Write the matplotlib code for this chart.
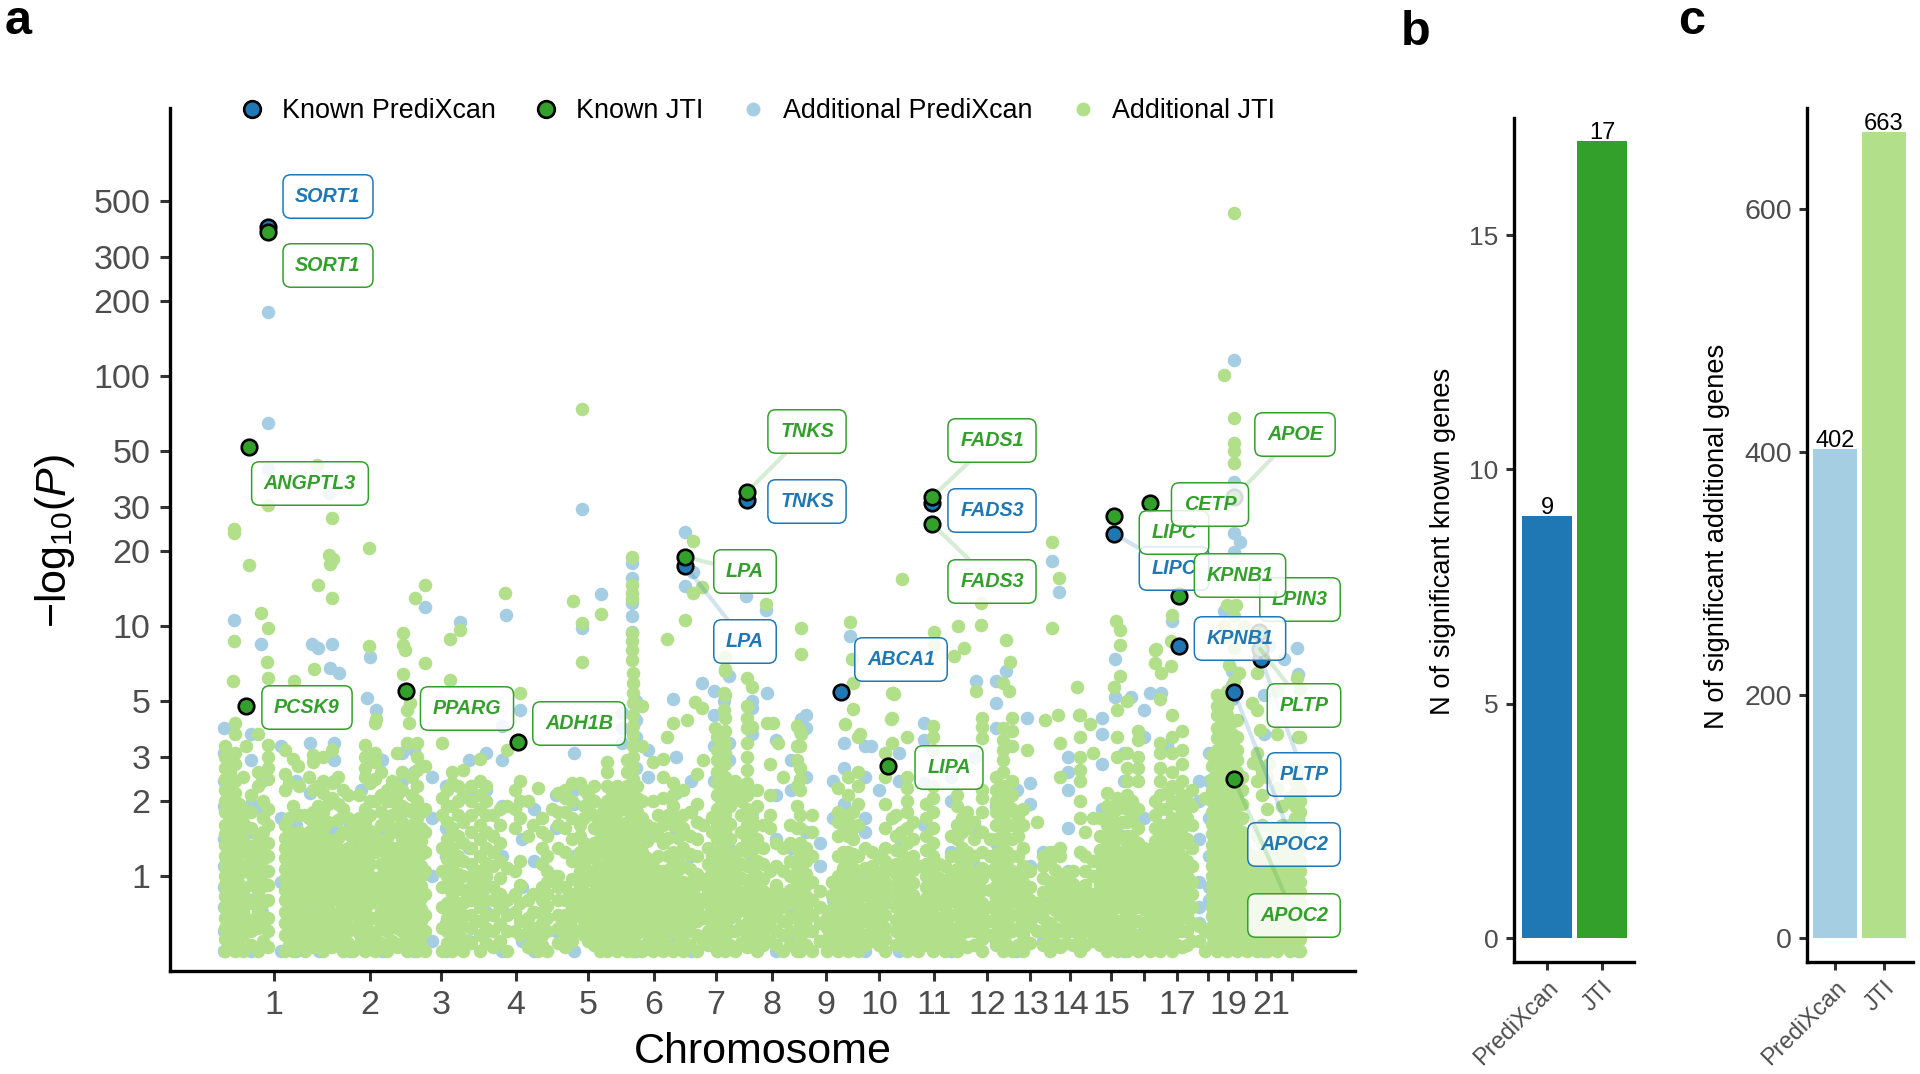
import matplotlib
matplotlib.use('Agg')
import matplotlib.pyplot as plt
from matplotlib.lines import Line2D

plt.rcParams['font.family'] = ['Liberation Sans', 'DejaVu Sans']
plt.rcParams['mathtext.fontset'] = 'custom'
plt.rcParams['mathtext.rm'] = 'Liberation Sans'
plt.rcParams['mathtext.it'] = 'Liberation Sans:italic'

azul, verde = '#1F78B4', '#33A02C'
azul_claro, verde_claro = '#A6CEE3', '#B2DF8A'
cinza = '#4D4D4D'

# cromossomos (posicao no genoma em unidades de ~2.66 Mb)
chrom_pos = [50, 146, 217, 292, 364, 430, 492, 548, 602, 655, 710, 763, 806, 846, 887, 920, 953, 984, 1004, 1032, 1047, 1068]
chrom_labels = ['1', '2', '3', '4', '5', '6', '7', '8', '9', '10', '11', '12', '13', '14', '15', '', '17', '', '19', '', '21', '']
y_ticks = [1, 2, 3, 5, 10, 20, 30, 50, 100, 200, 300, 500]

# genes conhecidos
known_pred = [(44, 394), (461, 17.4), (523, 31.9), (617, 5.45), (708, 31), (890, 23.4), (955, 8.35), (1010, 5.45), (1037, 7.4)]
known_jti = [(44, 378), (25, 52), (22, 4.78), (182, 5.5), (294, 3.45), (461, 18.9), (523, 34.3), (664, 2.75), (708, 32.8),
             (708, 25.6), (890, 27.5), (926, 31), (955, 13.2), (1010, 32.7), (1010, 2.44), (1036, 8.1), (1035, 9.5)]

# pontos isolados acima da massa
top_jti = [(10, 23.6), (10, 24.5), (25, 17.6), (37, 11.3), (44, 30.5), (10, 8.7), (9, 6), (44, 9.8), (43, 7.2), (44, 6.2), (70, 6),
           (90, 6.7), (93, 44), (108, 27), (94, 14.6), (108, 12.9), (106, 17.7), (109, 18.5), (105, 19.2), (145, 20.6), (145, 8.3),
           (152, 4.25), (179, 9.4), (179, 8.4), (181, 8), (179, 6.4), (186, 4.9), (185, 4.1), (191, 12.9), (201, 14.6), (201, 7.1),
           (226, 8.9), (236, 9.6), (226, 6.1), (281, 13.6), (296, 5.4), (349, 12.6), (358, 10.3), (358, 7.2), (358, 74), (377, 11.2),
           (408, 18.8), (408, 14.6), (408, 13.6), (408, 12.8), (408, 9.4), (408, 8.7), (408, 8), (408, 7.3), (443, 8.9), (461, 10.6),
           (469, 13.6), (469, 21.9), (478, 14.3), (501, 6.6), (523, 6.2), (528, 5.7), (542, 12.2), (577, 9.8), (577, 7.7), (500, 5.4),
           (500, 4.6), (471, 4.96), (478, 4.7), (463, 4.2), (449, 4.1), (491, 3.9), (528, 3.95), (543, 4.1), (549, 4.1), (554, 3.4),
           (443, 3.6), (577, 3.7), (626, 10.4), (628, 7.4), (629, 5.9), (629, 4.65), (621, 4.05), (636, 3.7), (669, 5.4), (667, 4.25),
           (678, 15.4), (670, 5.35), (710, 9.5), (734, 10), (757, 12.4), (757, 10.1), (740, 8.2), (730, 7.6), (782, 8.8), (786, 7.2),
           (752, 5.5), (785, 5.5), (853, 5.7), (828, 21.7), (835, 15.5), (828, 9.8), (710, 8.4), (821, 4.2), (834, 4.4), (855, 4.4),
           (866, 4.05), (803, 3.2), (892, 10.5), (896, 9.6), (896, 8.4), (896, 6.3), (890, 5.7), (903, 5), (931, 8), (931, 7.1),
           (937, 6.5), (948, 11.1), (947, 8.7), (947, 6.9), (932, 8.1), (1010, 68), (1010, 54), (1010, 50), (1010, 45), (1010, 450),
           (1000, 101), (1010, 16), (1003, 12.1), (1012, 12.1), (1000, 10), (1002, 9), (1010, 11), (1020, 10), (1010, 9.3), (1010, 8.2),
           (1005, 7), (1015, 6.5), (1010, 6), (1033, 6.5), (1073, 6.2), (1053, 5.5), (1028, 4.9), (1036, 3.85), (1053, 3.7), (1074, 3.6),
           (1029, 2.83), (1033, 2.4), (1045, 2.8)]
top_pred = [(44, 181), (44, 65), (44, 42.4), (105, 34), (10, 10.6), (37, 8.5), (88, 8.5), (94, 8.2), (108, 8.5), (106, 6.8), (115, 6.5),
            (143, 5.15), (152, 4.6), (146, 7.5), (201, 11.9), (236, 10.4), (282, 11.1), (377, 13.4), (358, 9.8), (296, 4.6), (449, 5.1),
            (461, 23.8), (461, 14.4), (469, 16.5), (408, 17.9), (408, 15.5), (408, 12.4), (408, 11), (408, 9.5), (358, 29.4), (522, 13.2),
            (542, 11.6), (478, 5.9), (500, 5), (528, 5), (543, 5.4), (577, 4.25), (626, 9.1), (647, 3.3), (828, 18.2), (835, 13.7),
            (782, 6.6), (752, 6), (803, 4.3), (891, 7.4), (891, 5.2), (907, 5.2), (926, 5.4), (937, 5.4), (948, 10.5), (1010, 37.7),
            (1010, 23.6), (1016, 21.7), (1010, 19.8), (1010, 116), (1073, 8.2), (1010, 12), (1000, 11.5), (1045, 8.3), (1060, 7.4)]

# massa densa: posicao -> valores de -log10(P)
jti_chr1_5 = {
    1: [.5, .56, .62, .68, .75, .83, .92, 1, 1.1, 1.2, 1.33, 1.47, 1.6, 1.8, 2, 2.2, 2.45, 2.7, 3, 3.3],
    11: [.5, .55, .6, .66, .73, .8, .88, .97, 1.07, 1.18, 1.3, 1.43, 1.57, 1.75, 2.15, 2.4, 2.8, 3.1, 3.7, 4.1],
    19: [.5, .58, .65, .72, .85, 1.1, 1.25, 1.4, 1.65, 1.85, 2.5],
    22: [3.3],
    34: [.5, .62, .72, .85, .98, 1.1, 1.25, 1.45, 2.3, 2.6, 3.7],
    44: [.52, .6, .68, .8, .92, 1.05, 1.2, 1.35, 1.6, 1.85, 2.45, 2.7, 3, 3.35],
    61: [.5, .58, .65, .72, .8, .88, .97, 1.07, 1.18, 1.3, 1.42, 1.6, 2.2, 2.55, 3.2],
    69: [.5, .56, .63, .7, .78, .86, .95, 1.05, 1.15, 1.25, 1.4, 1.9, 2.95],
    74: [2.75],
    81: [.5, .58, .66, .74, .84, .93, 1.02, 1.13, 1.25, 1.45, 1.75],
    89: [.52, .6, .68, .78, .87, .98, 1.08, 1.2, 1.35, 1.55, 1.8, 2.2, 2.85, 3.05],
    99: [.5, .57, .64, .72, .82, .9, 1, 1.15, 1.3, 1.55, 1.8, 2.15, 2.4, 3],
    108: [.52, .6, .7, .8, .9, 1.02, 1.2, 1.35, 2.05, 2.35, 3.2],
    119: [.5, .58, .66, .75, .85, .95, 1.08, 1.2, 1.5, 1.85, 2.2],
    129: [.5, .62, .72, .83, .93, 1.05, 1.18, 1.4, 1.55],
    141: [.5, .56, .64, .73, .82, .95, 1.05, 1.2, 1.4, 1.65, 1.85, 2.5, 2.7, 3, 3.35],
    151: [.5, .58, .68, .85, .95, 1.25, 1.45, 2, 2.45, 2.85, 3.1, 4.1],
    163: [.5, .6, .7, .78, .86, .95, 1.05, 1.2, 1.42, 1.65, 2, 2.2],
    173: [.52, .62, .72, .82, .92, 1.02, 1.18, 1.3, 1.55, 1.8, 2.1, 2.3, 3.1],
    183: [.5, .57, .64, .72, .8, .88, .97, 1.07, 1.2, 1.35, 1.55, 1.85, 3.4, 4.6],
    193: [.5, .55, .62, .7, .78, .87, .96, 1.05, 1.17, 1.3, 1.45, 1.7, 2, 2.3, 2.65, 3, 3.4],
    201: [.5, .6, .7, .85, 1.05, 1.25, 1.5, 1.85, 2.75],
    218: [.5, .62, .75, .9, 1.05, 1.3, 1.75, 2.05, 3.4],
    228: [.5, .58, .66, .74, .85, .95, 1.1, 1.3, 1.55, 1.9, 2.35, 2.6],
    239: [.5, .56, .63, .7, .78, .88, 1, 1.15, 1.35, 1.65, 2.1, 2.65],
    256: [.5, .58, .66, .75, .85, .95, 1.05, 1.2, 1.4, 1.6, 1.85, 2.1, 2.4, 2.95],
    269: [.52, .6, .7, .8, .9, 1.1, 1.25, 1.45, 1.75],
    283: [.5, .6, .7, .8, 1.08, 1.9, 3.2],
    291: [.6, .72, .85, 1.05, 1.55, 1.85, 2.2],
    304: [.52, .6, .68, .8, 1.45, 2],
    314: [.5, .56, 2.25],
    323: [.5, .6, .68, .76, .85, .95, 1.05, 1.2, 1.45],
    328: [1.85],
    341: [.52, .58, .65, .7, .8, .9, 1.25, 1.55, 1.8, 2.05, 2.2],
    356: [.6, .7, .8, .9, 1.05, 1.25, 1.45, 1.6, 2.35],
    364: [.55, .63, .7, .78, .85, 1.05, 1.2, 1.3, 1.85, 2.1],
}
jti_chr6_10 = {
    376: [.5, .55, .62, .7, .8, .9, 1, 1.1, 1.25, 1.4, 1.6],
    383: [.5, .58, .66, .75, .85, .95, 1.05, 1.2, 1.35, 1.55, 1.75, 2, 2.3, 2.6, 2.85],
    393: [.5, .56, .62, .7, .78, .86, .95, 1.05, 1.17, 1.3, 1.45, 1.6, 1.8, 2, 2.3],
    403: [.5, .55, .6, .67, .75, .83, .92, 1, 1.1, 1.22, 1.35, 1.5, 1.65, 1.85, 2.05, 2.3, 2.6, 2.9],
    409: [.5, .56, .62, .68, .75, .83, .92, 1, 1.1, 1.2, 1.33, 1.47, 1.62, 1.8, 2, 2.2, 2.45, 2.7, 3, 3.3, 3.65, 4, 4.4, 4.9, 5.4, 5.9, 6.5],
    418: [.5, .6, .7, .8, .9, 1, 1.12, 1.25, 1.5, 1.7, 2, 3.3, 4.8],
    429: [.5, .58, .68, .8, .9, 1, 1.15, 1.55, 2, 2.85],
    439: [.5, .56, .62, .7, .76, .84, .95, 1.05, 1.35, 1.6, 2.05, 2.5, 2.95],
    449: [.5, .6, .68, .78, .88, 1, 1.12, 1.25, 1.6, 1.9, 2.1, 2.35],
    459: [.5, .55, .62, .7, .78, .87, .95, 1.1, 1.3, 1.55, 1.75, 2.2],
    473: [.5, .58, .66, .74, .82, .92, 1.02, 1.2, 1.4, 1.65, 1.95, 2.55],
    479: [.55, .68, .8, .95, 1.6, 2.9],
    493: [.5, .56, .62, .7, .78, .86, .95, 1.1, 1.25, 1.4, 1.6, 1.85, 2.1, 2.35, 2.6, 2.9, 3.2, 3.6],
    501: [.5, .57, .64, .72, .8, .9, 1, 1.15, 1.3, 1.5, 1.75, 2, 2.25, 2.5, 2.8, 3.1, 3.4, 3.8, 4.3, 5.3, 6.7, 7.5],
    511: [.5, .6, .7, .8, .92, 1.05, 1.2, 2.05, 2.4],
    523: [.52, .58, .65, .72, .8, .88, .96, 1.1, 1.25, 1.4, 1.6, 1.85, 2.1, 2.35, 2.65, 3, 3.4, 3.9, 4.3, 4.8],
    533: [.5, .56, .63, .72, .8, .9, 1, 1.15, 1.4, 1.9, 2.2],
    546: [.55, .63, .72, .85, 1.05, 1.55, 1.75, 2.1, 2.8],
    559: [.5, .58, .66, .75, .85, 1.05, 1.3, 2.5],
    573: [.5, .6, .7, .82, .95, 1.1, 1.3, 1.55, 1.9, 2.3, 2.9, 3.3, 4],
    576: [.5, .56, .63, .7, .78, .86, .95, 1.05, 1.2, 1.35, 1.55, 1.75, 2.2, 2.45, 2.7, 3.3, 3.8],
    588: [.5, .6, .7, .8, .95, 1.2, 1.5, 1.75],
    603: [.5, .56, .62, .68],
    614: [.5, .56, .63, .7, .78, .86, 1, 1.2, 1.45, 1.65, 1.8, 2.25],
    624: [.5, .58, .66, .74, .82, .9, 1, 1.12, 1.25, 1.45, 1.65, 2.1, 2.5],
    634: [.5, .56, .63, .7, .8, .9, 1.05, 1.2, 1.6, 1.95, 2.3, 2.6, 3.6],
    648: [.55, .62, .7, .78, .88, .98, 1.1, 1.25],
}
jti_chr11_22 = {
    661: [.5, .56, .62, .7, .78, .86, .95, 1.05, 1.15, 1.3, 1.55, 1.95, 2.5, 3.1],
    668: [1.7, 3.4, 4.3, 5.4],
    683: [.5, .58, .66, .74, .82, .92, 1.02, 1.15, 1.35, 1.55, 1.8, 2, 2.25, 2.5, 3.6],
    694: [.5, .56, .63, .7, .78, 1.1],
    709: [.5, .56, .62, .7, .78, .86, .95, 1.05, 1.2, 1.35, 1.55, 1.8, 2.05, 2.3, 3.2, 3.6, 4],
    721: [.5, .58, .66, .75, .85, .95, 1.1],
    733: [.5, .56, .62, .7, .78, .87, .96, 1.07, 1.2, 1.4, 1.6, 1.9, 2.1],
    743: [.52, .6, .68, .76, .85, .95, 1.1, 1.25, 1.55, 1.8],
    758: [.5, .56, .62, .7, .78, .88, .98, 1.08, 1.25, 1.5, 1.8, 2.05, 2.2, 3.55, 3.95, 4.3],
    766: [.58, .66, .75, .88, 1.05, 1.2, 1.4],
    779: [.5, .56, .62, .7, .78, .86, .95, 1.05, 1.15, 1.3, 1.5, 1.7, 1.9, 2.1, 2.3, 2.6, 2.9, 3.2, 3.5, 3.9, 5.9],
    788: [.5, .6, .7, .8, .9, 1.05, 1.2, 1.4, 1.6, 1.85, 2.1, 2.4, 3.3, 3.8, 4.3],
    799: [.5, .58, .66, .74, .84, .95, 1.1, 1.3, 1.6, 1.85],
    813: [.6, .7, .78, 1.65],
    826: [.5, .56, .65, .75, .85, .95, 1.15, 1.25],
    836: [.52, .6, .7, .8, .9, 1, 1.2, 1.3, 2.5, 3.4],
    856: [.5, .57, .63, .7, .78, .85, 1.25, 1.7, 2, 2.4, 2.65, 3, 3.6, 4.4],
    869: [.55, .62, .7, .78, .85, 1, 1.15, 1.7, 3.1],
    883: [.5, .56, .63, .7, .78, .87, .96, 1.07, 1.2, 1.35, 1.6, 1.9, 2.15],
    893: [.5, .58, .66, .75, .85, .95, 1.1, 1.25, 1.4, 1.6, 1.85, 2.05, 3, 3.6, 4.6],
    903: [.5, .56, .63, .7, .78, .86, .95, 1.05, 1.17, 1.3, 1.45, 1.65, 1.85, 2.1, 2.4, 2.7, 3.1],
    914: [.5, .58, .66, .75, .85, .95, 1.05, 1.2, 1.35, 1.55, 1.85, 2.4, 2.7, 3, 3.5, 3.8],
    926: [.5, .55, .62, .7, .78, .88, .98, 1.1, 1.25],
    936: [.5, .56, .63, .7, .78, .86, .95, 1.05, 1.17, 1.3, 1.45, 1.6, 1.85, 2.1, 2.4, 2.7, 3.1, 3.4, 5.1],
    948: [.5, .58, .66, .74, .82, .92, 1.02, 1.15, 1.3, 1.5, 1.7, 2, 2.3, 2.6, 3.1, 3.6, 4.4],
    958: [.52, .6, .68, .76, .85, .95, 1.05, 1.2, 1.35, 1.55, 1.8, 2.1, 2.4, 2.8, 3.2, 3.8],
    968: [.55, .65, .75, .85, .95, 1.1, 1.3, 1.6, 1.9, 2.2],
    981: [.5, .6, 2.05],
    993: [.5, .55, .6, .66, .72, .79, .87, .95, 1.05, 1.15, 1.27, 1.4, 1.55, 1.7, 1.9, 2.1, 2.3, 2.6, 2.9, 3.2, 3.55, 3.9, 4.4, 4.8, 5.3],
    1003: [.5, .55, .6, .66, .72, .79, .87, .95, 1.05, 1.15, 1.27, 1.4, 1.55, 1.7, 1.9, 2.1, 2.3, 2.6, 2.9, 3.2, 3.55, 3.9, 4.4, 4.8, 5.5],
    1013: [.5, .55, .6, .66, .72, .79, .87, .95, 1.05, 1.15, 1.27, 1.4, 1.55, 1.7, 1.9, 2.1, 2.3, 2.6, 2.9, 3.2, 3.6, 4.2],
    1023: [.5, .56, .62, .7, .78, .86, .95, 1.05, 1.15, 1.25],
    1033: [.5, .56, .62, .7, .78, .86, .95, 1.05, 1.45, 2.8, 3.1, 4.6],
    1043: [.5, .56, .62, .7, .78, .86, .95, 1.1, 1.85, 2.5],
    1053: [.5, .56, .62, .7, .78, .86, .95, 1.05, 1.15, 1.3, 2.25],
    1066: [.5, .56, .62, .7, .78, .86, .95, 1.05, 1.15, 1.3, 1.45, 1.6, 2.05],
    1076: [.5, .56, .62, .7, .78, .86, .95, 1.05, 1.15, 1.3, 1.45, 1.6, 1.8, 2, 2.2, 3.6, 5.6],
}
# segunda passada na massa, entre as colunas acima
jti_fill_a = {
    6: [.53, .59, .65, .72, .79, .87, .96, 1.05, 1.15, 1.26, 1.38, 1.52, 1.7, 1.9, 2.1, 2.35, 2.6, 2.9],
    15: [.53, .58, .64, .7, .77, .84, .93, 1.02, 1.12, 1.24, 1.36, 1.5, 1.66, 1.95],
    27: [.53, .6, .67, .78, .92, 1.02, 1.17, 1.32, 1.55, 1.8, 2.1],
    39: [.55, .67, .78, .91, 1.04, 1.17, 1.32, 1.5, 1.7, 2],
    65: [.53, .61, .68, .76, .84, .92, 1.02, 1.12, 1.24, 1.36, 1.5, 1.7, 2.35],
    75: [.53, .6, .66, .74, .82, .91, 1, 1.1, 1.2, 1.33, 1.5, 1.75, 2.3],
    85: [.54, .62, .7, .79, .88, .97, 1.07, 1.18, 1.31, 1.5, 1.7, 2.5],
    94: [.54, .62, .7, .8, .92, 1.04, 1.15, 1.28, 1.45, 1.65, 1.9, 2.3],
    104: [.54, .6, .68, .76, .86, .96, 1.08, 1.22, 1.4, 1.65, 1.95],
    114: [.55, .63, .71, .8, .9, 1, 1.13, 1.28, 1.42, 1.68, 1.95, 2.5],
    124: [.54, .6, .69, .78, .88, .99, 1.13, 1.29, 1.47, 1.7, 2.1],
    135: [.53, .59, .68, .77, .87, 1, 1.12, 1.28, 1.5, 1.7, 2.1],
    146: [.53, .6, .68, .78, .88, 1, 1.12, 1.3, 1.52, 1.75, 2, 2.35],
    157: [.54, .63, .73, .81, .9, 1, 1.12, 1.33, 1.6, 1.8, 2.1, 2.6],
    168: [.55, .65, .74, .82, .9, .99, 1.12, 1.3, 1.5, 1.75, 2, 2.4],
    178: [.54, .6, .68, .77, .84, .93, 1.03, 1.13, 1.26, 1.42, 1.65, 1.9, 2.2, 2.6],
    188: [.53, .6, .67, .75, .83, .92, 1.01, 1.12, 1.25, 1.4, 1.6, 1.8, 2.1, 2.5],
    197: [.53, .58, .66, .74, .82, .91, 1, 1.1, 1.23, 1.38, 1.55, 1.8],
    223: [.54, .6, .68, .78, .9, 1, 1.17, 1.4, 1.65, 1.9, 2.2],
    234: [.53, .6, .69, .78, .9, 1.02, 1.2, 1.45, 1.75, 2, 2.3],
    247: [.54, .62, .7, .8, .9, 1, 1.12, 1.3, 1.5, 1.75, 2, 2.3],
    262: [.54, .62, .7, .8, .9, 1, 1.13, 1.3, 1.5, 1.75, 2, 2.3],
    276: [.55, .64, .75, .85, .98, 1.15, 1.35, 1.6, 1.85],
    296: [.58, .66, .78, .92, 1.15, 1.7, 2, 2.4],
    309: [.55, .62, .72, .85, 1.6],
    318: [.53, .58, .65, .72, .8, .9, 1.12, 1.3, 1.5, 1.7],
    334: [.54, .62, .7, .8, .9, 1, 1.3, 1.6, 1.8, 2.15],
    348: [.55, .62, .68, .75, .85, .97, 1.15, 1.4, 1.7, 2, 2.35],
    360: [.58, .66, .74, .84, .95, 1.12, 1.35, 1.7, 1.9, 2.2],
    370: [.53, .6, .67, .75, .85, .95, 1.05, 1.18, 1.35, 1.55, 1.75, 2, 2.3],
}
jti_fill_b = {
    380: [.53, .6, .68, .77, .87, .98, 1.1, 1.25, 1.45, 1.65, 1.85],
    388: [.53, .59, .65, .73, .81, .9, 1, 1.12, 1.27, 1.42, 1.65, 1.9, 2.15],
    398: [.53, .58, .64, .71, .79, .88, .97, 1.07, 1.19, 1.32, 1.47, 1.62, 1.85, 2.1],
    413: [.53, .59, .65, .72, .8, .88, .97, 1.06, 1.17, 1.3, 1.45, 1.6, 1.8, 2.05, 2.3],
    423: [.54, .63, .73, .84, .95, 1.05, 1.18, 1.38, 1.6],
    434: [.54, .6, .66, .73, .82, .93, 1.05, 1.2, 1.45, 1.75],
    444: [.53, .6, .67, .75, .84, .94, 1.06, 1.2, 1.42, 1.75],
    454: [.53, .58, .65, .73, .82, .92, 1.06, 1.18, 1.42, 1.7],
    466: [.53, .6, .68, .76, .85, .95, 1.07, 1.23, 1.45, 1.8],
    484: [.53, .6, .7, .78, .87, .98, 1.12, 1.3],
    488: [.55, .63, .74, .83, .93, 1.05, 1.2, 1.5, 1.72],
    497: [.53, .59, .66, .74, .82, .9, 1, 1.12, 1.28, 1.45, 1.7, 1.95, 2.2, 2.45, 2.75],
    506: [.53, .6, .68, .76, .85, .95, 1.08, 1.22, 1.4, 1.62, 1.9, 2.15],
    517: [.54, .63, .73, .85, .98, 1.12, 1.3, 1.5, 1.75, 2, 2.25],
    528: [.53, .59, .66, .76, .85, .95, 1.08, 1.27, 1.55, 1.7],
    539: [.53, .59, .68, .78, .87, .97, 1.12, 1.3, 1.6],
    552: [.53, .6, .69, .78, .92, 1.1, 1.35],
    566: [.53, .6, .68, .78, .88, 1, 1.15, 1.35, 1.6],
    582: [.53, .6, .67, .75, .83, .92, 1.02, 1.15, 1.3],
    596: [.55, .65, .75, .87],
    608: [.53, .6, .66, .74, .84, .95],
    619: [.53, .6, .68, .77, .85, .95, 1.08, 1.25, 1.5, 1.75],
    629: [.53, .6, .68, .76, .85, .95, 1.08, 1.23, 1.4, 1.55, 1.8],
    641: [.53, .58, .66, .74, .84, .95, 1.08, 1.3],
    655: [.53, .59, .66, .74, .83, .93, 1.04, 1.18],
    672: [.53, .6, .67, .75, .83, .92, 1.02, 1.12, 1.27, 1.45, 1.75],
    677: [.55, .63, .71, .79, .88, .97, 1.08, 1.25, 1.5],
    689: [.53, .6, .68, .76, .84, .94, 1.06, 1.2, 1.4, 1.65],
    702: [.53, .59, .66, .74, .82, .9, 1, 1.12, 1.27, 1.45, 1.7, 1.95],
    715: [.53, .6, .68, .77, .87, .98, 1.12],
    727: [.53, .62, .7, .8, .9, 1.03, 1.2, 1.45],
    738: [.53, .59, .66, .74, .82, .91, 1.02, 1.15, 1.3, 1.5, 1.7],
    750: [.53, .6, .66, .74, .83, .93, 1.03, 1.2, 1.4, 1.65],
    772: [.53, .59, .65, .73, .82, .91, 1, 1.1, 1.22, 1.4, 1.6, 1.8, 2, 2.2, 2.5],
    783: [.53, .59, .65, .73, .82, .9, 1, 1.1, 1.25, 1.42, 1.6, 1.8, 2, 2.25],
    794: [.53, .62, .7, .78, .88, 1, 1.2, 1.45, 1.7],
    806: [.54, .63, .72, .8, .9, 1.05],
}
jti_fill_c = {
    819: [.53, .6, .68, .76, .86, .98, 1.1, 1.2],
    831: [.54, .62, .73, .82, .92, 1.06, 1.25],
    842: [.54, .6, .66, .74, .83, .92, 1.03],
    849: [.53, .6, .67, .75, .84, .93, 1.05],
    861: [.53, .6, .67, .74, .82, .92, 1.05, 1.2, 1.5],
    876: [.53, .59, .66, .74, .83, .92, 1.02, 1.13, 1.27, 1.45, 1.7],
    888: [.53, .6, .68, .78, .87, .98, 1.15, 1.33, 1.5, 1.75],
    898: [.53, .6, .67, .75, .82, .9, 1, 1.12, 1.25, 1.42, 1.65, 1.95],
    908: [.53, .59, .66, .74, .82, .9, 1, 1.12, 1.27, 1.45, 1.7, 2],
    920: [.53, .59, .65, .74, .83, .93, 1.03, 1.15, 1.3],
    931: [.53, .59, .66, .74, .82, .9, 1, 1.11, 1.23, 1.38, 1.55, 1.75, 2],
    942: [.53, .61, .7, .78, .87, .97, 1.08, 1.23, 1.4, 1.6, 1.85, 2.15],
    953: [.53, .6, .68, .76, .85, .95, 1.08, 1.27, 1.45, 1.67, 1.95, 2.25],
    963: [.53, .6, .7, .8, .9, 1, 1.15, 1.4, 1.7, 2],
    975: [.55, .63],
    988: [.53, .58, .63, .69, .75, .83, .91, 1, 1.1, 1.21, 1.33, 1.47, 1.62, 1.8, 2, 2.2, 2.45, 2.75, 3.05],
    998: [.53, .58, .63, .69, .75, .83, .91, 1, 1.1, 1.21, 1.33, 1.47, 1.62, 1.8, 2, 2.2, 2.45, 2.75, 3.05, 3.4, 3.7, 4.15, 4.6, 5.05],
    1008: [.53, .58, .63, .69, .75, .83, .91, 1, 1.1, 1.21, 1.33, 1.47, 1.62, 1.8, 2, 2.2, 2.45, 2.75, 3.05, 3.4, 3.7, 4.15],
    1018: [.53, .58, .65, .74, .82, .9, 1, 1.1, 1.2, 1.35, 1.5, 1.7, 1.95, 2.2, 2.5],
    1028: [.53, .59, .66, .74, .82, .9, 1, 1.1, 1.2],
    1038: [.53, .59, .66, .74, .82, .9, 1, 1.1, 1.2, 1.35, 1.6, 2.1, 2.6],
    1048: [.53, .59, .66, .74, .82, .9, 1, 1.1, 1.2, 1.35, 1.55],
    1058: [.53, .59, .66, .74, .82, .9, 1, 1.1, 1.22, 1.4, 1.6, 1.9],
    1071: [.53, .59, .66, .74, .82, .9, 1, 1.1, 1.22, 1.38, 1.55, 1.7, 1.9, 2.15, 2.4, 2.7],
}
pred_dense = {
    0: [.5, .6, .75, .9, 1.1, 1.4, 1.9, 2.4, 3.1, 3.9], 15: [.72, 1.3, 1.85], 27: [.5, .62, .8, 1.15, 1.5, 1.95, 2.9, 3.7],
    38: [.72, .95, 1.3, 1.85, 2.4], 57: [1.7, .5, 3.3, .95], 72: [.5, .8, 1.1, 1.6, 2.4], 86: [.58, .72, 1.15, 1.7, 2.15, 3.4],
    95: [.5, .75, 1.1, 1.3, 1.65], 110: [.62, .9, 1.5, 2.4, 2.9, 3.4], 126: [.5, .8, 1.3, 1.6], 137: [.55, .95, 1.7, 2.2],
    158: [.5, .72, 1, 1.5, 2.9], 178: [.65, 1.15, 1.8, 2.4, 3.1], 190: [.5, .85, 1.35, 2.6, 3.2], 208: [.55, 1, 1.7, 2.5],
    222: [.5, .65, 1.2, 1.55, 2.3], 245: [.55, .8, 1.3, 2.1, 2.9], 262: [.6, .72, 1, 1.5, 2.2, 3.1], 278: [.5, .75, 1.2, 1.9, 2.9, 4],
    298: [.55, .9, 1.4], 310: [.5, .72, 1.15, 1.85], 332: [.6, 1, 1.55, 2.1], 350: [.5, .72, 1.2, 1.95, 2.2, 3.1], 370: [.55, .85, 1.3, 2],
    398: [1.25, 1.95, 3.4, 3.9, 4.5], 412: [.5, 2.7, 3.6, 4.2, 5], 424: [.6, 1.4, 2.5, 3.2], 452: [.55, .95, 1.5, 2.15, 3], 467: [.5, 1.2, 1.8, 2.4],
    490: [1.1, 1.5, 2.4, 3.3, 4.4, 5.5], 505: [.7, 1.3, 2.9, 3.4, 6.3], 528: [.8, 1.15, 1.8, 3.7, 4.7], 552: [.5, .9, 1.4, 2.1, 3.5], 567: [.55, .75, 1.3, 2.2, 2.9],
    582: [.62, 1, 1.5, 2.5, 3.9, 4.4], 596: [.55, 1.1, 1.35], 609: [.6, .8, 1.7, 2.4], 620: [.55, 1.2, 1.95, 2.7, 3.4], 641: [.5, 1, 1.5, 1.7, 2.5, 3.3],
    655: [.65, 1.2, 2.2], 675: [.5, 1.3, 2.4, 3.1], 700: [.6, 1.6, 2.35, 3.5, 4.1], 727: [.5, 1.25, 2, 2.5], 751: [.7, 1.1, 1.55, 3], 772: [.55, 1.35, 1.9, 3.9, 4.9, 6],
    793: [.5, .85, 1.6, 2.2], 806: [.65, 1.1, 1.95, 2.35], 819: [.55, .78, 1.25], 844: [.6, 1.05, 1.55, 2.2, 2.6, 3], 878: [.55, 1.2, 1.85, 2.8, 3.7, 4.3],
    900: [.5, 1.45, 2.4, 3.1], 920: [.6, .95, 1.7, 3.6, 4.6], 943: [.55, 1.35, 2.15, 3.3], 975: [.65, .75, .95, 1.4, 2, 2.4], 985: [.6, .8, .9, 1.2, 1.7, 2.4, 3.1],
    1008: [5.1, 5.8, 6.6], 1040: [.5, 3.7, 5.3], 1074: [.5, 1.7, 2.6, 6.4],
}

# barras
barras_nomes = ['PrediXcan', 'JTI']
known_counts = [9, 17]
additional_counts = [402, 663]

# rotulos: gene, cor, ponto, centro da caixa em pixels, tem linha?
rotulos = [
    ('SORT1', azul, 44, 394, 328, 195, False), ('SORT1', verde, 44, 378, 328, 264, False),
    ('ANGPTL3', verde, 25, 52, 310, 482, False), ('PCSK9', verde, 22, 4.78, 307, 706, False),
    ('PPARG', verde, 182, 5.5, 467, 707, False), ('ADH1B', verde, 294, 3.45, 579, 722, False),
    ('LPA', azul, 461, 17.4, 745, 640, True), ('LPA', verde, 461, 18.9, 745, 570, True),
    ('TNKS', azul, 523, 31.9, 807, 500, False), ('TNKS', verde, 523, 34.3, 807, 430, True),
    ('ABCA1', azul, 617, 5.45, 901, 658, False), ('LIPA', verde, 664, 2.75, 949, 766, False),
    ('FADS3', azul, 708, 31, 992, 509, False), ('FADS1', verde, 708, 32.8, 992, 439, True),
    ('FADS3', verde, 708, 25.6, 992, 580, True), ('APOE', verde, 1010, 32.7, 1295, 433, True),
    ('LPIN3', verde, 1035, 9.5, 1300, 598, False), ('LIPC', azul, 890, 23.4, 1174, 567, True),
    ('LIPC', verde, 890, 27.5, 1174, 531, False), ('CETP', verde, 926, 31, 1210, 503, False),
    ('KPNB1', azul, 955, 8.35, 1240, 637, False), ('KPNB1', verde, 955, 13.2, 1240, 574, False),
    ('PLTP', azul, 1037, 7.4, 1304, 773, True), ('PLTP', verde, 1036, 8.1, 1304, 704, True),
    ('APOC2', azul, 1010, 5.45, 1294, 843, True), ('APOC2', verde, 1010, 2.44, 1294, 914, True),
]


def expande(colunas):
    xs, ys = [], []
    for x, valores in colunas.items():
        for v in valores:
            xs.append(x)
            ys.append(v)
    return xs, ys


def eixos(fig, esq, dir, topo, base):
    ax = fig.add_axes([esq / 1920, 1 - base / 1074, (dir - esq) / 1920, (base - topo) / 1074])
    ax.spines['top'].set_visible(False)
    ax.spines['right'].set_visible(False)
    ax.spines['left'].set_linewidth(2.4)
    ax.spines['bottom'].set_linewidth(2.4)
    ax.set_facecolor('none')
    return ax


fig = plt.figure(figsize=(19.2, 10.74), dpi=100)

# painel a
ax = eixos(fig, 170, 1355, 108, 971)
ax.set_yscale('log')
ax.set_xlim(-54, 1131)
ax.set_ylim(0.417, 1180)

px, py = expande(pred_dense)
ax.scatter(px + [p[0] for p in top_pred], py + [p[1] for p in top_pred], s=95, color=azul_claro, linewidths=0, zorder=2)
gx, gy = [], []
for bloco in (jti_chr1_5, jti_chr6_10, jti_chr11_22, jti_fill_a, jti_fill_b, jti_fill_c):
    a, b = expande(bloco)
    gx += a
    gy += b
ax.scatter(gx + [p[0] for p in top_jti], gy + [p[1] for p in top_jti], s=95, color=verde_claro, linewidths=0, zorder=3)

ax.scatter([p[0] for p in known_pred], [p[1] for p in known_pred], s=125, color=azul, edgecolors='black', linewidths=1.9, zorder=4)
ax.scatter([p[0] for p in known_jti], [p[1] for p in known_jti], s=125, color=verde, edgecolors='black', linewidths=1.9, zorder=5)

for gene, cor, x, y, bx, by, linha in rotulos:
    seta = dict(arrowstyle='-', color=cor, alpha=0.2, lw=3, shrinkA=0, shrinkB=0) if linha else None
    ax.annotate(gene, xy=(x, y), xytext=(bx, 1074 - by - 1.5), textcoords='figure pixels', ha='center', va='center',
                fontsize=14.2, color=cor, fontstyle='italic', fontweight='bold', zorder=6, arrowprops=seta,
                bbox=dict(boxstyle='round,pad=0.62,rounding_size=0.4', fc=(1, 1, 1, 0.85), ec=cor, lw=1.1))

ax.set_xticks(chrom_pos)
ax.set_xticklabels(chrom_labels)
ax.set_yticks(y_ticks)
ax.set_yticklabels([str(t) for t in y_ticks])
ax.minorticks_off()
ax.tick_params(axis='both', labelsize=24.5, length=7, width=2.2, color='#333333', labelcolor=cinza, pad=7)

fig.text(763 / 1920, 1 - 1052 / 1074, 'Chromosome', fontsize=31, ha='center', va='center')
fig.text(55 / 1920, 1 - 541 / 1074, r'$-\mathrm{log}_{10}(\mathit{P})$', fontsize=31, rotation=90, ha='center', va='center')

h = [Line2D([], [], ls='', marker='o', ms=12, mfc=azul, mec='black', mew=1.9),
     Line2D([], [], ls='', marker='o', ms=12, mfc=verde, mec='black', mew=1.9),
     Line2D([], [], ls='', marker='o', ms=10, mfc=azul_claro, mec='none'),
     Line2D([], [], ls='', marker='o', ms=10, mfc=verde_claro, mec='none')]
fig.legend(h, ['Known PrediXcan', 'Known JTI', 'Additional PrediXcan', 'Additional JTI'], ncol=4, frameon=False,
           fontsize=19.4, loc='center left', bbox_to_anchor=(238.5 / 1920, 1 - 111.5 / 1074), borderpad=0, borderaxespad=0,
           handlelength=1, handletextpad=0.6, columnspacing=1.37, numpoints=1)

# painel b
ax2 = eixos(fig, 1514, 1634, 118, 962)
ax2.bar([0, 1], known_counts, width=0.9, color=[azul, verde])
ax2.set_xlim(-0.6, 1.58)
ax2.set_ylim(-0.51, 17.5)
ax2.set_yticks([0, 5, 10, 15])
for i, v in enumerate(known_counts):
    ax2.text(i, v + 0.05, str(v), ha='center', va='baseline', fontsize=17, clip_on=True)

# painel c
ax3 = eixos(fig, 1807, 1913, 108, 962)
ax3.bar([0, 1], additional_counts, width=0.9, color=[azul_claro, verde_claro])
ax3.set_xlim(-0.57, 1.59)
ax3.set_ylim(-19.75, 683)
ax3.set_yticks([0, 200, 400, 600])
for i, v in enumerate(additional_counts):
    ax3.text(i, v + 2, str(v), ha='center', va='baseline', fontsize=17)

for a, tam in ((ax2, 19), (ax3, 20.5)):
    a.set_xticks([0, 1])
    a.set_xticklabels(barras_nomes, rotation=45, ha='right', rotation_mode='anchor')
    a.tick_params(axis='both', labelsize=tam, length=6, width=2.2, color='#333333', labelcolor=cinza, pad=5)
    a.tick_params(axis='x', labelsize=17)

fig.text(1443 / 1920, 1 - 541 / 1074, 'N of significant known genes', fontsize=19.6, rotation=90, ha='center', va='center')
fig.text(1717 / 1920, 1 - 536 / 1074, 'N of significant additional genes', fontsize=19.6, rotation=90, ha='center', va='center')

fig.text(5 / 1920, 1 - 34 / 1074, 'a', fontsize=35, fontweight='bold', va='baseline')
fig.text(1401 / 1920, 1 - 45 / 1074, 'b', fontsize=35, fontweight='bold', va='baseline')
fig.text(1678 / 1920, 1 - 34 / 1074, 'c', fontsize=35, fontweight='bold', va='baseline')

fig.savefig('out.png', dpi=100)
